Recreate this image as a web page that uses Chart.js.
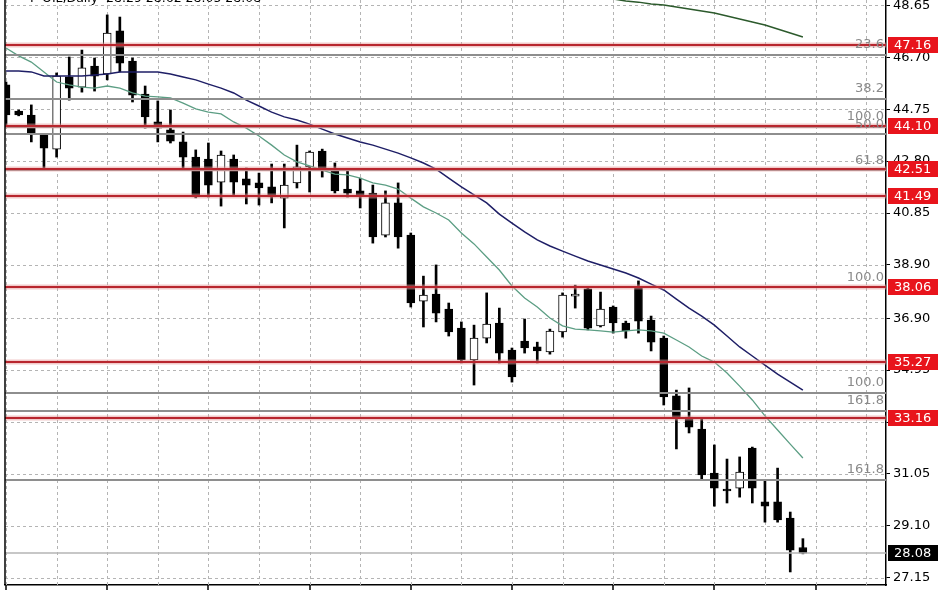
<!DOCTYPE html>
<html lang="en">
<head>
<meta charset="UTF-8">
<title>F-OIL Daily</title>
<script src="https://cdn.jsdelivr.net/npm/chart.js@4.4.1/dist/chart.umd.min.js"></script>
<style>
  html, body { margin: 0; padding: 0; background: #fff; }
  canvas { display: block; }
</style>
</head>
<body>
<canvas id="chart" width="948" height="593"></canvas>
<script>
// daily candles, oldest first
var candleOpen  = [45.66,44.68,44.53,43.78,43.25,45.96,45.58,46.37,46.07,47.69,46.56,45.32,44.27,43.97,43.52,42.95,
                   42.88,42.01,42.88,42.13,41.98,41.83,41.41,41.98,42.58,43.18,42.50,41.75,41.68,41.60,40.02,41.23,
                   40.02,37.54,37.81,37.24,36.53,35.33,36.15,36.72,35.70,36.04,35.82,35.63,36.38,37.73,38.00,36.61,
                   37.32,36.72,38.03,36.83,36.15,33.98,33.19,32.74,31.08,30.48,30.52,32.02,30.00,30.00,29.39,28.29];
var candleHigh  = [45.77,44.72,44.91,43.82,46.11,46.71,46.97,46.67,48.29,48.21,46.67,45.62,45.06,44.72,43.89,43.22,
                   43.48,43.18,43.03,42.54,42.35,42.69,42.69,43.40,43.18,43.25,42.73,42.50,42.16,41.90,41.68,41.98,
                   40.10,38.48,38.90,37.47,36.76,36.64,37.85,37.28,35.78,36.87,36.00,36.49,37.85,38.14,38.03,37.88,
                   37.36,36.79,38.30,36.98,36.23,34.20,34.28,33.11,32.14,31.61,31.69,32.06,30.82,31.27,29.62,28.62];
var candleLow   = [44.15,44.50,43.52,42.46,42.95,45.09,45.39,45.43,45.85,46.15,45.02,44.04,43.52,43.48,42.54,41.42,
                   41.45,41.11,41.53,41.19,41.15,41.23,40.29,41.79,41.64,42.20,41.60,41.45,41.04,39.72,39.95,39.53,
                   37.32,36.57,36.76,36.23,35.22,34.39,35.97,35.22,34.50,35.59,35.22,35.55,36.19,37.28,36.46,36.57,
                   36.34,36.15,36.34,35.67,33.64,31.99,32.59,30.82,29.84,29.96,30.18,29.96,29.24,29.24,27.37,28.05];
var candleClose = [44.53,44.53,43.85,43.29,45.99,45.54,46.30,45.99,47.61,46.48,45.28,44.46,44.04,43.55,42.95,41.45,
                   41.90,43.03,42.01,41.90,41.79,41.45,41.90,42.58,43.14,42.50,41.68,41.60,41.53,39.95,41.23,39.95,
                   37.47,37.77,37.09,36.38,35.33,36.15,36.68,35.59,34.69,35.78,35.67,36.42,37.77,37.81,36.53,37.24,
                   36.72,36.42,36.79,36.00,33.94,33.19,32.81,31.01,30.52,30.41,31.12,30.52,29.84,29.32,28.19,28.08];

// moving averages as drawn on the chart
var maFast = [47.05,46.75,46.52,46.15,45.77,45.66,45.58,45.54,45.62,45.54,45.36,45.24,45.21,45.17,44.98,44.76,
              44.64,44.57,44.27,44.04,43.74,43.40,43.03,42.77,42.62,42.46,42.31,42.28,42.16,41.98,41.90,41.75,
              41.41,41.08,40.85,40.59,40.10,39.69,39.20,38.71,38.11,37.66,37.32,36.91,36.61,36.49,36.46,36.42,
              36.38,36.42,36.46,36.42,36.34,36.08,35.82,35.48,35.25,34.84,34.35,33.83,33.23,32.70,32.17,31.65];
var maSlow = [46.18,46.18,46.15,46.00,46.00,46.00,46.00,46.03,46.07,46.15,46.15,46.15,46.15,46.07,45.96,45.85,
              45.69,45.54,45.36,45.09,44.87,44.64,44.46,44.34,44.19,44.00,43.82,43.67,43.52,43.40,43.25,43.10,
              42.92,42.73,42.50,42.16,41.83,41.53,41.23,40.81,40.47,40.14,39.84,39.61,39.42,39.23,39.05,38.90,
              38.75,38.60,38.41,38.18,37.96,37.62,37.28,36.98,36.64,36.23,35.82,35.48,35.14,34.80,34.50,34.20];
var maLongStart = 46;
var maLong = [49.00,48.93,48.89,48.81,48.77,48.70,48.66,48.59,48.51,48.44,48.36,48.25,48.14,48.02,47.91,47.76,47.61,47.46];

// horizontal levels
var levelValues = [47.16, 44.10, 42.51, 41.49, 38.06, 35.27, 33.16];
var fibValues = [46.80, 45.15, 44.08, 43.80, 42.46, 38.06, 34.09, 33.41, 30.82];
var fibLabels = ['23.6', '38.2', '100.0', '50.0', '61.8', '100.0', '100.0', '161.8', '161.8'];
var lastPrice = 28.08;

// price axis
var tickValues = [48.65, 46.70, 44.75, 42.80, 40.85, 38.90, 36.90, 34.95, 33.00, 31.05, 29.10, 27.15];
var tickLabels = ['48.65','46.70','44.75','42.80','40.85','38.90','36.90','34.95','33.00','31.05','29.10','27.15'];

var titleText = 'F-OIL,Daily  28.29 28.62 28.05 28.08';

var FONT = '"DejaVu Sans", sans-serif';

var bodies = [], wicks = [], bodyColors = [], fast = [], slow = [], longMa = [];
for (var i = 0; i < candleOpen.length; i++) {
    bodies.push({x: i, y: [candleOpen[i], candleClose[i]]});
    wicks.push({x: i, y: [candleLow[i], candleHigh[i]]});
    bodyColors.push(candleClose[i] > candleOpen[i] ? '#ffffff' : '#000000');
    fast.push({x: i, y: maFast[i]});
    slow.push({x: i, y: maSlow[i]});
}
for (var j = 0; j < maLong.length; j++) {
    longMa.push({x: maLongStart + j, y: maLong[j]});
}

var overlay = {
    id: 'overlay',
    beforeDatasetsDraw: function (chart) {
        // dashed grid
        var ctx = chart.ctx, a = chart.chartArea, x = chart.scales.x, y = chart.scales.y;
        ctx.save();
        ctx.strokeStyle = '#b4b4b4';
        ctx.lineWidth = 1;
        ctx.setLineDash([3, 3]);
        x.ticks.forEach(function (t) {
            var px = Math.round(x.getPixelForValue(t.value)) + 0.5;
            ctx.beginPath(); ctx.moveTo(px, a.top); ctx.lineTo(px, a.bottom); ctx.stroke();
        });
        y.ticks.forEach(function (t) {
            var py = Math.round(y.getPixelForValue(t.value)) + 0.5;
            ctx.beginPath(); ctx.moveTo(a.left, py); ctx.lineTo(a.right, py); ctx.stroke();
        });
        ctx.restore();
    },
    afterDatasetsDraw: function (chart) {
        var ctx = chart.ctx, a = chart.chartArea, y = chart.scales.y;
        ctx.save();
        ctx.beginPath();
        ctx.rect(a.left, 0, a.right - a.left, a.bottom);
        ctx.clip();
        // fibo lines
        ctx.strokeStyle = '#8e8e8e';
        ctx.lineWidth = 2;
        fibValues.forEach(function (v) {
            var py = Math.round(y.getPixelForValue(v));
            ctx.beginPath(); ctx.moveTo(a.left, py); ctx.lineTo(a.right, py); ctx.stroke();
        });
        // last price line
        ctx.strokeStyle = '#b4b4b4';
        ctx.lineWidth = 1.5;
        var lp = Math.round(y.getPixelForValue(lastPrice));
        ctx.beginPath(); ctx.moveTo(a.left, lp); ctx.lineTo(a.right, lp); ctx.stroke();
        // red levels
        levelValues.forEach(function (v) {
            var py = Math.round(y.getPixelForValue(v));
            ctx.strokeStyle = 'rgba(230,150,150,0.5)';
            ctx.lineWidth = 5;
            ctx.beginPath(); ctx.moveTo(a.left, py); ctx.lineTo(a.right, py); ctx.stroke();
            ctx.strokeStyle = '#b8262e';
            ctx.lineWidth = 2;
            ctx.beginPath(); ctx.moveTo(a.left, py); ctx.lineTo(a.right, py); ctx.stroke();
        });
        // fibo texts
        ctx.font = '13px ' + FONT;
        ctx.fillStyle = '#8a8a8a';
        ctx.textAlign = 'right';
        ctx.textBaseline = 'middle';
        fibValues.forEach(function (v, k) {
            ctx.fillText(fibLabels[k], a.right - 2, y.getPixelForValue(v) - 10);
        });
        // title, only its lower half shows
        ctx.fillStyle = '#000';
        ctx.textAlign = 'left';
        ctx.font = '12.5px ' + FONT;
        ctx.fillText(titleText, a.left + 25, -1);
        ctx.restore();
    },
    afterDraw: function (chart) {
        var ctx = chart.ctx, a = chart.chartArea, x = chart.scales.x, y = chart.scales.y;
        ctx.save();
        // left frame line
        ctx.strokeStyle = '#000';
        ctx.lineWidth = 1.5;
        ctx.beginPath(); ctx.moveTo(a.left, a.top); ctx.lineTo(a.left, a.bottom); ctx.stroke();
        // bottom time ticks
        for (var k = 0; k <= 68; k += 8) {
            var px = Math.round(x.getPixelForValue(k));
            ctx.beginPath(); ctx.moveTo(px, a.bottom); ctx.lineTo(px, a.bottom + 5); ctx.stroke();
        }
        // price boxes
        ctx.font = '13px ' + FONT;
        ctx.textAlign = 'left';
        ctx.textBaseline = 'middle';
        var box = function (v, bg) {
            var py = Math.round(y.getPixelForValue(v));
            ctx.fillStyle = bg;
            ctx.fillRect(a.right + 2, py - 8, 50, 16);
            ctx.fillStyle = '#fff';
            ctx.fillText(v.toFixed(2), a.right + 8, py + 0.5);
        };
        levelValues.forEach(function (v) { box(v, '#e8141c'); });
        box(lastPrice, '#000');
        ctx.restore();
    }
};

new Chart(document.getElementById('chart'), {
    type: 'bar',
    data: {
        datasets: [
            {type: 'line', data: longMa, borderColor: '#2c5a2c', borderWidth: 1.5, pointRadius: 0, order: 0},
            {type: 'line', data: slow, borderColor: '#1e1e66', borderWidth: 1.5, pointRadius: 0, order: 0},
            {type: 'line', data: fast, borderColor: '#5c9e84', borderWidth: 1.3, pointRadius: 0, order: 0},
            {data: wicks, backgroundColor: '#000', barThickness: 2, order: 3},
            {data: bodies, backgroundColor: bodyColors, borderColor: '#000', borderWidth: 1,
             borderSkipped: false, barThickness: 8, order: 2}
        ]
    },
    options: {
        responsive: false,
        animation: false,
        devicePixelRatio: 1,
        layout: {padding: {left: 5, top: 0, right: 0, bottom: 0}},
        plugins: {legend: {display: false}, tooltip: {enabled: false}},
        datasets: {bar: {grouped: false}},
        scales: {
            x: {
                type: 'linear',
                min: -0.08,
                max: 69.57,
                offset: false,
                afterBuildTicks: function (s) {
                    var t = [];
                    for (var k = 0; k <= 68; k += 4) t.push({value: k});
                    s.ticks = t;
                },
                afterFit: function (s) {
                    s.height = 8;
                    s.paddingLeft = 0; s.paddingRight = 0;
                },
                ticks: {display: false},
                grid: {drawOnChartArea: false, drawTicks: false},
                border: {display: true, color: '#000', width: 1.5}
            },
            y: {
                type: 'linear',
                position: 'right',
                min: 26.88,
                max: 48.85,
                afterBuildTicks: function (s) {
                    s.ticks = tickValues.map(function (v) { return {value: v}; });
                },
                afterFit: function (s) {
                    s.width = 62;
                    s.paddingTop = 0; s.paddingBottom = 0;
                },
                ticks: {
                    color: '#000',
                    padding: 3,
                    font: {family: FONT, size: 13},
                    callback: function (v, idx) { return tickLabels[idx]; }
                },
                grid: {drawOnChartArea: false, tickLength: 4, tickColor: '#000'},
                border: {display: true, color: '#000', width: 1.5}
            }
        }
    },
    plugins: [overlay]
});
</script>
</body>
</html>
